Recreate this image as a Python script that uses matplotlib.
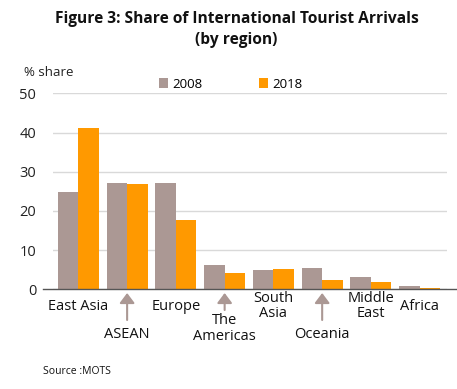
import matplotlib
matplotlib.use("Agg")
import matplotlib.pyplot as plt
import matplotlib.transforms as mtransforms
import numpy as np

plt.rcParams['font.family'] = ['Open Sans', 'DejaVu Sans']

regions = ["East Asia", "ASEAN", "Europe", "The\nAmericas", "South\nAsia",
           "Oceania", "Middle\nEast", "Africa"]
share_2008 = [24.8, 27.1, 27.1, 6.2, 4.9, 5.4, 3.1, 0.85]
share_2018 = [41.1, 26.9, 17.7, 4.2, 5.2, 2.4, 1.9, 0.4]
yticks = [0, 10, 20, 30, 40, 50]
arrowed = ["ASEAN", "The\nAmericas", "Oceania"]

C08 = "#ab9894"
C18 = "#ff9900"

fig = plt.figure(figsize=(4.57, 3.89), dpi=100)
ax = fig.add_axes([53 / 457, 1 - 289.3 / 389, 394 / 457, 196 / 389])

x = np.arange(len(regions))
w = 0.42
ax.bar(x - w / 2, share_2008, w, color=C08, label="2008")
ax.bar(x + w / 2, share_2018, w, color=C18, label="2018")

ax.set_xlim(-0.52, 7.56)
ax.set_ylim(0, 50)
ax.set_yticks(yticks)
ax.tick_params(axis="y", length=0, pad=12, labelsize=10.5, colors="#222")
ax.set_xticks([])
ax.grid(axis="y", color="#d9d9d9", linewidth=1)
ax.set_axisbelow(True)
for s in ax.spines.values():
    s.set_visible(False)
# baseline runs a bit past the grid on both sides
ax.plot([-0.025, 1.023], [0, 0], transform=ax.transAxes, color="#555",
        linewidth=1, clip_on=False)

# category labels, staggered with arrows for a few of them
trans = mtransforms.blended_transform_factory(ax.transData, fig.transFigure)
for i, name in enumerate(regions):
    if name not in arrowed:
        ypos = 1 - 306 / 389
        ax.text(i, ypos, name, transform=trans, ha="center", va="center",
                fontsize=10.5, linespacing=1.05, color="#111")
    else:
        lines = name.count("\n") + 1
        ybot = 310 if lines == 2 else 320
        ycen = 328.5 if lines == 2 else 335
        ax.annotate("", xy=(i, 1 - 293 / 389), xytext=(i, 1 - ybot / 389),
                    xycoords=trans, textcoords=trans,
                    arrowprops=dict(arrowstyle="-|>,head_length=0.6,head_width=0.45",
                                    color=C08, lw=1.5, mutation_scale=10,
                                    shrinkA=0, shrinkB=0))
        ax.text(i, 1 - ycen / 389, name, transform=trans, ha="center",
                va="center", fontsize=10.5, linespacing=1.05, color="#111")

fig.text(0.5175, 1 - 19 / 389, "Figure 3: Share of International Tourist Arrivals",
         ha="center", va="center", fontsize=11.2, fontweight="bold", color="#111")
fig.text(0.5175, 1 - 40 / 389, "(by region)", ha="center", va="center",
         fontsize=11.2, fontweight="bold", color="#111")
fig.text(24 / 457, 1 - 72 / 389, "% share", ha="left", va="center",
         fontsize=9.5, color="#222")

leg = ax.legend(ncol=2, loc="center left", bbox_to_anchor=(159 / 457, 1 - 84 / 389),
                bbox_transform=fig.transFigure, frameon=False, fontsize=9.5,
                handlelength=0.7, handleheight=0.7, handletextpad=0.3,
                columnspacing=4.3, borderpad=0, borderaxespad=0)

fig.text(43 / 457, 1 - 372 / 389, "Source :MOTS", ha="left", va="center",
         fontsize=7.5, color="#111")

fig.savefig("out.png", dpi=100, facecolor="white")
